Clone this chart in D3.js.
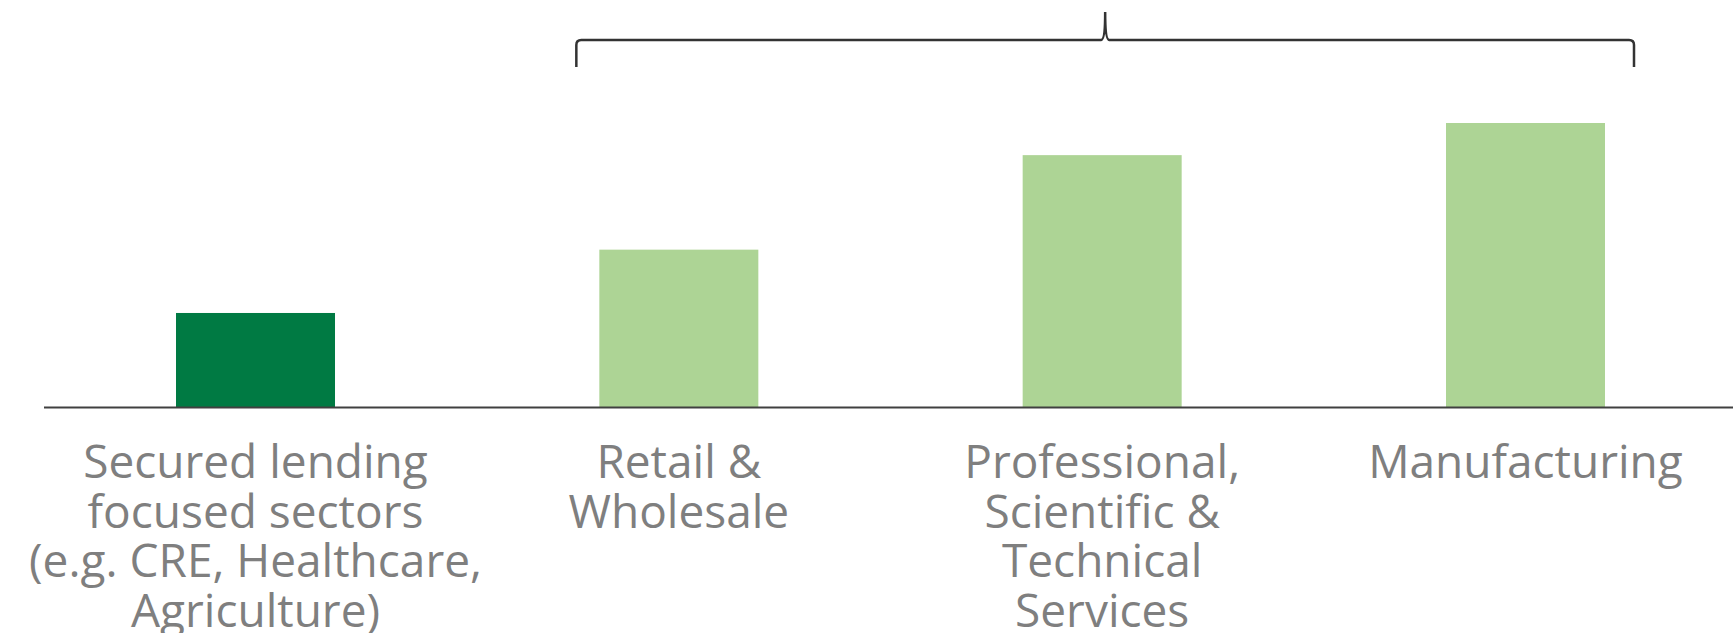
<!DOCTYPE html>
<html>
<head>
<meta charset="utf-8">
<script src="https://cdn.jsdelivr.net/npm/d3@7"></script>
<style>
  body { margin: 0; background: #fff; }
  svg { display: block; }
</style>
</head>
<body>
<div id="vis"></div>
<script>
// data
var categories = ["Secured", "Retail", "Professional", "Manufacturing"];
var labels = [
  ["Secured lending", "focused sectors", "(e.g. CRE, Healthcare,", "Agriculture)"],
  ["Retail &", "Wholesale"],
  ["Professional,", "Scientific &", "Technical", "Services"],
  ["Manufacturing"]
];
var values = [1.0, 1.67, 2.67, 3.01];
var highlighted = ["Secured"]; // dark green bar
var bracketed = ["Retail", "Manufacturing"]; // first and last under the brace

var width = 1733, height = 633;
var axisY = 407.5;

var svg = d3.select("#vis").append("svg")
  .attr("width", width)
  .attr("height", height);

var x = d3.scaleBand()
  .domain(categories)
  .range([176, 1605])
  .paddingInner(0.6244)
  .paddingOuter(0);

var y = d3.scaleLinear()
  .domain([0, d3.max(values)])
  .range([axisY, 123]);

// bars
svg.selectAll(".bar")
  .data(categories)
  .enter().append("rect")
    .attr("class", "bar")
    .attr("x", function(d) { return x(d); })
    .attr("width", x.bandwidth())
    .attr("y", function(d, i) { return y(values[i]); })
    .attr("height", function(d, i) { return axisY - y(values[i]); })
    .style("fill", function(d) { return highlighted.indexOf(d) >= 0 ? "#007A43" : "#ADD495"; });

// baseline
svg.append("line")
  .attr("x1", 44)
  .attr("x2", width)
  .attr("y1", axisY)
  .attr("y2", axisY)
  .style("stroke", "#404040")
  .style("stroke-width", 2);

// category labels
var lab = svg.selectAll(".label")
  .data(categories)
  .enter().append("text")
    .attr("class", "label")
    .attr("text-anchor", "middle")
    .style("font-family", "'Open Sans', sans-serif")
    .style("font-size", "46px")
    .style("fill", "#7F7F7F");

lab.selectAll("tspan")
  .data(function(d, i) { return labels[i].map(function(t) { return {t: t, c: d}; }); })
  .enter().append("tspan")
    .attr("x", function(d) { return x(d.c) + x.bandwidth() / 2; })
    .attr("y", function(d, j) { return 478 + j * 49.7; })
    .text(function(d) { return d.t; });

// curly brace over the last three bars
var bx0 = x(bracketed[0]) - 23,
    bx1 = x(bracketed[1]) + x.bandwidth() + 29,
    bmid = (bx0 + bx1) / 2,
    bTop = 40, bBot = 67, bPeak = 12, r = 5;

var brace = d3.path();
brace.moveTo(bx0, bBot);
brace.lineTo(bx0, bTop + r);
brace.quadraticCurveTo(bx0, bTop, bx0 + r, bTop);
brace.lineTo(bmid - 4, bTop);
brace.quadraticCurveTo(bmid, bTop, bmid, bPeak);
brace.quadraticCurveTo(bmid, bTop, bmid + 4, bTop);
brace.lineTo(bx1 - r, bTop);
brace.quadraticCurveTo(bx1, bTop, bx1, bTop + r);
brace.lineTo(bx1, bBot);

svg.append("path")
  .attr("d", brace.toString())
  .style("fill", "none")
  .style("stroke", "#333333")
  .style("stroke-width", 2.5);
</script>
</body>
</html>
